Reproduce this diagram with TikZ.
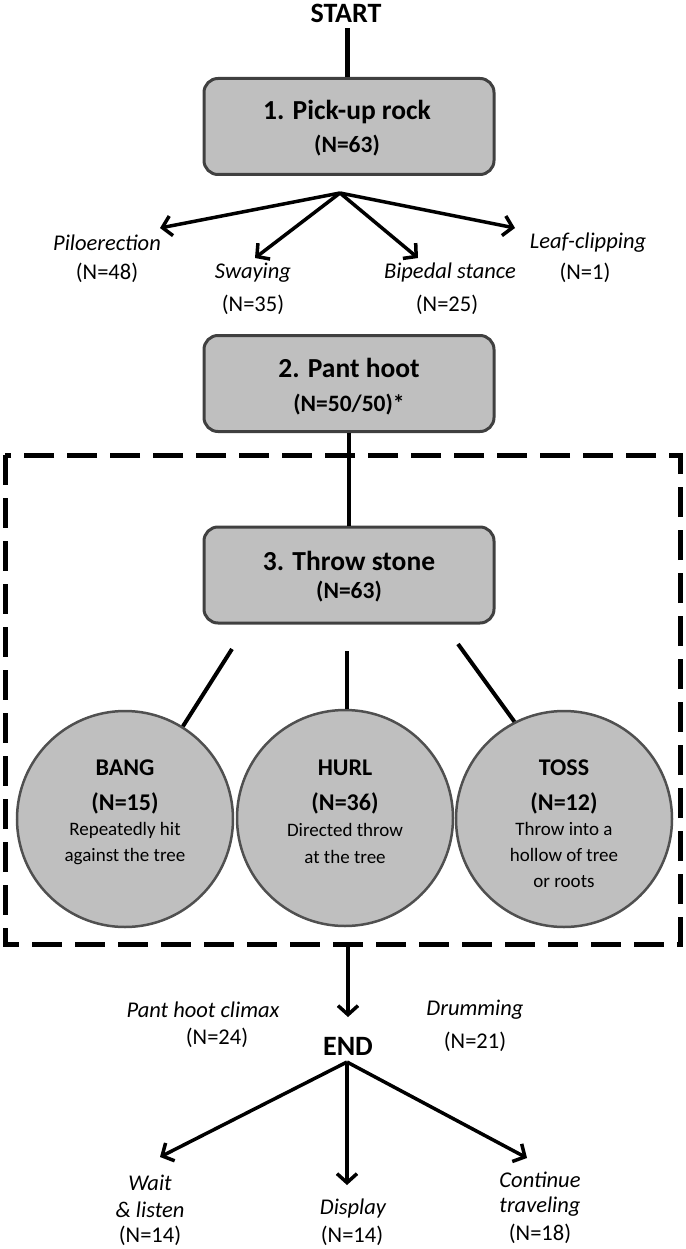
\documentclass[tikz,border=0pt]{standalone}
\usepackage{fontspec}
\setmainfont{Carlito}
\usetikzlibrary{arrows.meta,shapes.geometric}
\definecolor{boxfill}{HTML}{BFBFBF}
\definecolor{boxdraw}{HTML}{404040}
\definecolor{circdraw}{HTML}{505050}
\begin{document}
\begin{tikzpicture}[x=1pt,y=-1pt,
  box/.style={draw=boxdraw, line width=3pt, fill=boxfill, rounded corners=14pt, minimum width=290pt, minimum height=96pt, inner sep=0pt},
  circ/.style={circle, draw=circdraw, line width=2.5pt, fill=boxfill, minimum size=216pt, inner sep=0pt},
  ttl/.style={font=\fontsize{27.5}{32}\selectfont\bfseries, inner sep=0pt},
  cnt/.style={font=\fontsize{23.5}{27}\selectfont\bfseries, inner sep=0pt},
  ctl/.style={font=\fontsize{24}{28}\selectfont\bfseries, inner sep=0pt},
  lab/.style={font=\fontsize{22.5}{26}\selectfont\itshape, inner sep=0pt},
  num/.style={font=\fontsize{22.5}{26}\selectfont, inner sep=0pt},
  desc/.style={font=\fontsize{19}{22}\selectfont, inner sep=0pt},
  big/.style={font=\fontsize{28}{32}\selectfont\bfseries, inner sep=0pt},
  arr/.style={line width=3.5pt, -{Straight Barb[length=9pt,width=20pt]}},
  link/.style={line width=4pt},
]
\useasboundingbox (0,0) rectangle (685,1249);

% dashed group
\draw[line width=5pt, dash pattern=on 30pt off 13pt] (5,455) rectangle (680,944);

% START
\node[big] (start) at (346,13) {START};

% box 1
\node[box] (b1) at (349,126.5) {};
\node[ttl] (b1t) at (347,112) {1. Pick-up rock};
\node[cnt] (b1n) at (347,146) {(N=63)};
\draw[line width=5pt] (347,28) coordinate (s0) -- (s0 |- b1.north);

% branching
\coordinate (ap1) at (340,193);
\coordinate (t1) at (160,228);
\coordinate (t2) at (255,258);
\coordinate (t3) at (418,258);
\coordinate (t4) at (515,228);
\draw[arr] (ap1) -- (t1);
\draw[arr] (ap1) -- (t2);
\draw[arr] (ap1) -- (t3);
\draw[arr] (ap1) -- (t4);

\node[lab] (pilo) at (107,243) {Piloerection};
\node[num] (pilon) at (107,273) {(N=48)};
\node[lab] (sway) at (253,273) {Swaying};
\node[num] (swayn) at (253,305) {(N=35)};
\node[lab] (biped) at (450,273) {Bipedal stance};
\node[num] (bipedn) at (447,305) {(N=25)};
\node[lab] (leaf) at (588,243) {Leaf-clipping};
\node[num] (leafn) at (585,273) {(N=1)};

% box 2
\node[box] (b2) at (349,383.5) {};
\node[ttl] (b2t) at (349,368) {2. Pant hoot};
\node[cnt] (b2n) at (349,405) {(N=50/50)*};

% box 3
\node[box] (b3) at (349,575) {};
\node[ttl] (b3t) at (349,561) {3. Throw stone};
\node[cnt] (b3n) at (349,592) {(N=63)};

\draw[link] (b2.south) -- (b3.north);

% circles
\node[circ] (bang) at (125,819) {};
\node[circ] (hurl) at (345,818) {};
\node[circ] (toss) at (564,819) {};

\node[ctl] at (125,768) {BANG};
\node[ctl] at (125,803) {(N=15)};
\node[desc] at (125,830) {Repeatedly hit};
\node[desc] at (125,857) {against the tree};

\node[ctl] at (345,768) {HURL};
\node[ctl] at (345,803) {(N=36)};
\node[desc] at (345,830) {Directed throw};
\node[desc] at (345,857) {at the tree};

\node[ctl] at (564,768) {TOSS};
\node[ctl] at (564,803) {(N=12)};
\node[desc] at (564,829) {Throw into a};
\node[desc] at (564,855) {hollow of tree};
\node[desc] at (564,882) {or roots};

\coordinate (l1) at (232,649);
\coordinate (l2) at (347,651);
\coordinate (l3) at (458,644);
\draw[link] (l1) -- (bang.58);
\draw[link] (l2) -- (l2 |- hurl.north);
\draw[link] (l3) -- (toss.117);

% to END
\coordinate (g0) at (348,944);
\coordinate (g1) at (348,1017);
\draw[arr] (g0) -- (g1);

\node[lab] (climax) at (203,1010) {Pant hoot climax};
\node[num] (climaxn) at (217,1038) {(N=24)};
\node[lab] (drum) at (475,1010) {Drumming};
\node[num] (drumn) at (475,1042) {(N=21)};
\node[big] (end) at (348,1046) {END};

\coordinate (ap2) at (347,1062);
\coordinate (e1) at (160,1157);
\coordinate (e2) at (347,1185);
\coordinate (e3) at (527,1158);
\draw[arr] (ap2) -- (e1);
\draw[arr] (ap2) -- (e2);
\draw[arr] (ap2) -- (e3);

\node[lab] (wait) at (150,1183) {Wait};
\node[lab] (listen) at (150,1210) {\& listen};
\node[num] (waitn) at (150,1236) {(N=14)};
\node[lab] (disp) at (353,1208) {Display};
\node[num] (dispn) at (352,1236) {(N=14)};
\node[lab] (cont) at (540,1180) {Continue};
\node[lab] (trav) at (540,1207) {traveling};
\node[num] (contn) at (540,1234) {(N=18)};
\end{tikzpicture}
\end{document}
